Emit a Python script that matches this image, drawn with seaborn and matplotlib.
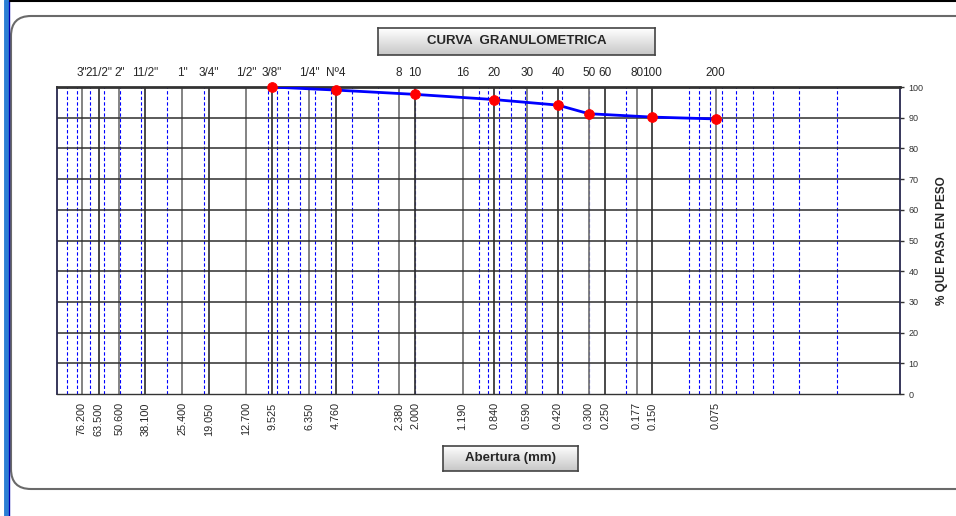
import numpy as np
import matplotlib
matplotlib.use('Agg')
import matplotlib.pyplot as plt
import seaborn as sns
from matplotlib.patches import FancyBboxPatch
from matplotlib.lines import Line2D
import matplotlib.transforms as mtransforms

sns.set_theme(style='white')
plt.rcParams['font.family'] = ['Liberation Sans', 'DejaVu Sans']

# tamices y aberturas (mm)
tamices = ['3"', '21/2"', '2"', '11/2"', '1"', '3/4"', '1/2"', '3/8"', '1/4"', 'Nº4',
           '8', '10', '16', '20', '30', '40', '50', '60', '80', '100', '200']
aberturas = [76.2, 63.5, 50.6, 38.1, 25.4, 19.05, 12.7, 9.525, 6.35, 4.76,
             2.38, 2.0, 1.19, 0.84, 0.59, 0.42, 0.30, 0.25, 0.177, 0.15, 0.075]

# curva granulometrica
abertura_curva = [9.525, 4.76, 2.0, 0.84, 0.42, 0.30, 0.15, 0.075]
pct_pasa = [100, 99.0, 97.6, 95.9, 94.1, 91.3, 90.2, 89.6]

W, H = 956, 516
fig = plt.figure(figsize=(W / 100, H / 100), dpi=100)

# marco redondeado
frame = FancyBboxPatch((0.11, 0.27), 9.7, 4.73,
                       boxstyle='round,pad=0,rounding_size=0.2',
                       transform=fig.dpi_scale_trans, facecolor='white',
                       edgecolor='#6a6a6a', linewidth=1.5, zorder=-10)
fig.patches.append(frame)
fig.lines.append(Line2D([5.5 / W, 5.5 / W], [0, 1], transform=fig.transFigure,
                        color='#2a7fd4', linewidth=3.5, zorder=-5))
fig.lines.append(Line2D([9 / W, 9 / W], [0, 1], transform=fig.transFigure,
                        color='#0000b0', linewidth=1, zorder=-5))
fig.lines.append(Line2D([10 / W, 1], [1 - 1 / H, 1 - 1 / H], transform=fig.transFigure,
                        color='black', linewidth=1.5, zorder=-5))

x0, x1, y0, y1 = 57, 900, 87, 394
ax = fig.add_axes([x0 / W, 1 - y1 / H, (x1 - x0) / W, (y1 - y0) / H])
ax.set_xscale('log')
ax.set_xlim(100, 0.01)
ax.set_ylim(0, 100)

# lineas menores (azul, discontinuas)
for d in range(-2, 2):
    for k in range(1, 10):
        v = k * 10.0 ** d
        if 0.01 < v < 100:
            ax.axvline(v, color='blue', linewidth=0.8, linestyle=(0, (3, 2)), zorder=1)
# lineas de tamices
for i, a in enumerate(aberturas):
    ax.axvline(a, color='#3a3a3a' if i % 2 else '#7a7a7a', linewidth=1.3, zorder=1.5)
for yv in range(10, 100, 10):
    ax.axhline(yv, color='#2e2e2e', linewidth=1.1, zorder=1.5)

sns.lineplot(x=abertura_curva, y=pct_pasa, ax=ax, color='blue', linewidth=2, zorder=3)
sns.scatterplot(x=abertura_curva, y=pct_pasa, ax=ax, color='red', s=50,
                edgecolor='red', zorder=4, clip_on=False)

ax.set_xticks(aberturas)
ax.set_xticklabels([f'{a:.3f}' for a in aberturas], rotation=90, fontsize=7.8, va='top')
ax.xaxis.set_minor_locator(matplotlib.ticker.NullLocator())
ax.tick_params(axis='x', length=0, pad=6)

ax.yaxis.tick_right()
ax.yaxis.set_label_position('right')
ax.set_yticks(range(0, 101, 10))
ax.tick_params(axis='y', right=True, left=False, length=3, width=1, labelsize=6.5,
               colors='#333333', pad=3)
ax.set_ylabel('% QUE PASA EN PESO', fontsize=8.5, fontweight='bold', labelpad=9)
ax.set_xlabel('')

for side in ['left', 'right']:
    ax.spines[side].set_color('#26264d')
    ax.spines[side].set_linewidth(1.3)
ax.spines['top'].set_color('#333333')
ax.spines['top'].set_linewidth(2)
ax.spines['bottom'].set_color('#333333')
ax.spines['bottom'].set_linewidth(1)

# etiquetas de tamices arriba
trans = mtransforms.blended_transform_factory(ax.transData, ax.transAxes)
for a, t in zip(aberturas, tamices):
    ax.text(a, 1.025, t, transform=trans, ha='center', va='bottom', fontsize=8.5)


def caja(x_a, y_a, x_b, y_b, texto):
    bx = fig.add_axes([x_a / W, 1 - y_b / H, (x_b - x_a) / W, (y_b - y_a) / H])
    grad = np.linspace(1, 0.78, 40).reshape(-1, 1)
    bx.imshow(grad, aspect='auto', cmap='gray', vmin=0, vmax=1, extent=[0, 1, 0, 1],
              origin='upper')
    bx.set_xticks([])
    bx.set_yticks([])
    for s in bx.spines.values():
        s.set_color('#444444')
        s.set_linewidth(1.2)
    bx.text(0.5, 0.5, texto, ha='center', va='center', fontsize=9.5,
            fontweight='bold', transform=bx.transAxes)


caja(378, 28, 655, 55, 'CURVA  GRANULOMETRICA')
caja(443, 446, 578, 471, 'Abertura (mm)')

fig.savefig('out.png', dpi=100)
